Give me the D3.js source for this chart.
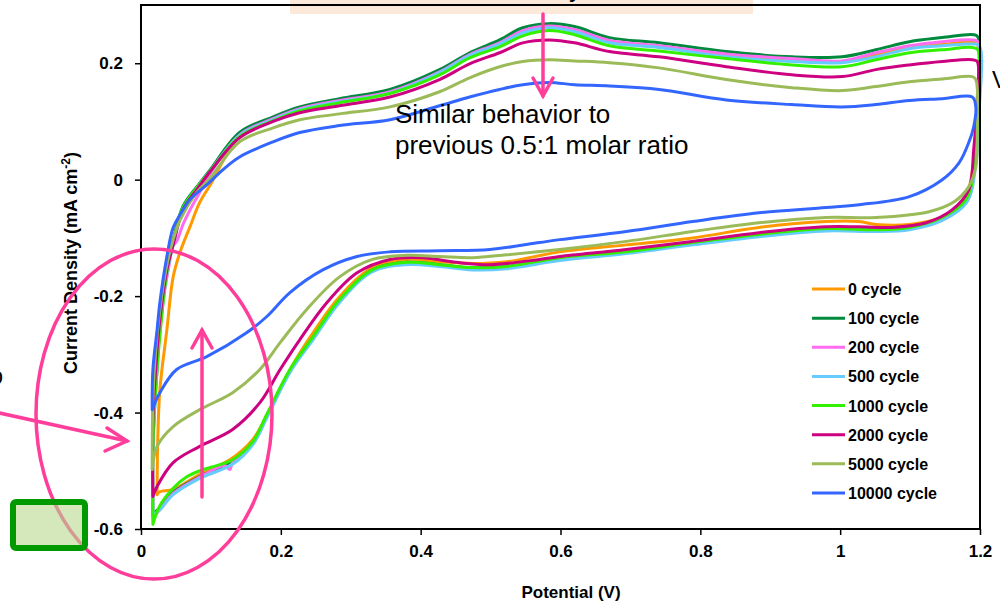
<!DOCTYPE html>
<html><head><meta charset="utf-8">
<script src="https://cdn.jsdelivr.net/npm/d3@7"></script>
<style>
body{margin:0;background:#fff;}
svg{display:block;font-family:Arial,"Liberation Sans",sans-serif;}
</style></head>
<body><svg id="c" width="1000" height="606"></svg>
<script>
// ---- data (potential V, current density mA cm^-2), loops: anodic sweep then cathodic sweep
const seriesNames = ["0 cycle","100 cycle","200 cycle","500 cycle","1000 cycle","2000 cycle","5000 cycle","10000 cycle"];
const xTicks = [0,0.2,0.4,0.6,0.8,1,1.2];
const yTicks = [-0.6,-0.4,-0.2,0,0.2];

const cycle0 = [[0.023,-0.541],[0.024,-0.446],[0.027,-0.361],[0.037,-0.258],[0.046,-0.167],[0.056,-0.124],[0.070,-0.081],[0.084,-0.039],[0.099,-0.009],[0.141,0.074],[0.189,0.103],[0.227,0.120],[0.284,0.134],[0.356,0.149],[0.427,0.184],[0.47,0.213],[0.513,0.233],[0.546,0.254],[0.584,0.263],[0.62,0.256],[0.67,0.237],[0.741,0.228],[0.837,0.213],[0.931,0.204],[1.003,0.203],[1.051,0.215],[1.099,0.227],[1.146,0.232],[1.189,0.237],
 [1.196,0.233],[1.196,0.129],[1.191,0.034],[1.179,-0.031],[1.146,-0.064],[1.099,-0.077],[1.051,-0.077],[1.027,-0.072],[0.980,-0.072],[0.884,-0.082],[0.789,-0.100],[0.694,-0.112],[0.599,-0.124],[0.523,-0.141],[0.474,-0.144],[0.427,-0.141],[0.380,-0.137],[0.331,-0.151],[0.284,-0.201],[0.246,-0.263],[0.217,-0.318],[0.184,-0.395],[0.160,-0.446],[0.127,-0.481],[0.084,-0.506],[0.046,-0.532],[0.027,-0.536],[0.023,-0.541]];
const cycle100 = [[0.017,-0.575],[0.017,-0.464],[0.020,-0.378],[0.023,-0.326],[0.027,-0.240],[0.037,-0.155],[0.046,-0.103],[0.060,-0.046],[0.080,-0.012],[0.099,0.017],[0.141,0.081],[0.189,0.108],[0.227,0.125],[0.284,0.139],[0.356,0.155],[0.427,0.189],[0.47,0.218],[0.513,0.240],[0.546,0.261],[0.584,0.268],[0.62,0.263],[0.67,0.244],[0.741,0.235],[0.837,0.220],[0.931,0.211],[1.003,0.211],[1.051,0.223],[1.099,0.237],[1.146,0.244],[1.191,0.249],
 [1.197,0.245],[1.197,0.137],[1.193,0.034],[1.180,-0.034],[1.146,-0.067],[1.099,-0.082],[1.051,-0.086],[0.980,-0.084],[0.884,-0.094],[0.789,-0.108],[0.694,-0.124],[0.599,-0.136],[0.523,-0.149],[0.474,-0.151],[0.427,-0.146],[0.380,-0.142],[0.331,-0.155],[0.284,-0.208],[0.246,-0.271],[0.213,-0.328],[0.180,-0.405],[0.160,-0.451],[0.131,-0.483],[0.084,-0.510],[0.046,-0.537],[0.027,-0.563],[0.017,-0.575]];
const cycle200 = [[0.017,-0.580],[0.017,-0.464],[0.020,-0.378],[0.027,-0.258],[0.034,-0.189],[0.041,-0.141],[0.044,-0.117],[0.051,-0.106],[0.060,-0.077],[0.070,-0.052],[0.084,-0.022],[0.099,0.010],[0.141,0.077],[0.189,0.105],[0.227,0.122],[0.284,0.136],[0.356,0.151],[0.427,0.185],[0.47,0.215],[0.513,0.235],[0.546,0.256],[0.584,0.264],[0.62,0.258],[0.67,0.239],[0.741,0.230],[0.837,0.216],[0.931,0.208],[1.003,0.204],[1.051,0.218],[1.099,0.230],[1.146,0.237],[1.189,0.240],
 [1.197,0.237],[1.197,0.129],[1.193,0.029],[1.181,-0.038],[1.146,-0.069],[1.099,-0.084],[1.051,-0.088],[0.980,-0.086],[0.884,-0.096],[0.789,-0.110],[0.694,-0.125],[0.599,-0.137],[0.523,-0.151],[0.474,-0.153],[0.427,-0.148],[0.380,-0.144],[0.331,-0.156],[0.284,-0.209],[0.246,-0.273],[0.213,-0.330],[0.180,-0.407],[0.160,-0.453],[0.131,-0.486],[0.127,-0.498],[0.120,-0.491],[0.084,-0.511],[0.046,-0.539],[0.027,-0.567],[0.017,-0.580]];
const cycle500 = [[0.017,-0.575],[0.017,-0.464],[0.021,-0.361],[0.027,-0.258],[0.037,-0.163],[0.046,-0.112],[0.060,-0.052],[0.080,-0.014],[0.099,0.015],[0.141,0.076],[0.189,0.103],[0.227,0.120],[0.284,0.134],[0.356,0.149],[0.427,0.184],[0.47,0.213],[0.513,0.233],[0.546,0.252],[0.584,0.261],[0.62,0.254],[0.67,0.235],[0.741,0.227],[0.837,0.211],[0.931,0.203],[1.003,0.201],[1.051,0.211],[1.099,0.225],[1.146,0.230],[1.189,0.233],
 [1.199,0.230],[1.199,0.120],[1.194,0.026],[1.181,-0.039],[1.146,-0.070],[1.099,-0.086],[1.051,-0.089],[0.980,-0.088],[0.884,-0.098],[0.789,-0.112],[0.694,-0.127],[0.599,-0.139],[0.523,-0.153],[0.474,-0.155],[0.427,-0.149],[0.380,-0.146],[0.331,-0.158],[0.284,-0.211],[0.246,-0.275],[0.213,-0.331],[0.180,-0.409],[0.160,-0.455],[0.131,-0.489],[0.084,-0.513],[0.046,-0.541],[0.027,-0.567],[0.017,-0.575]];
const cycle1000 = [[0.017,-0.592],[0.017,-0.464],[0.020,-0.378],[0.024,-0.309],[0.037,-0.158],[0.046,-0.108],[0.060,-0.048],[0.080,-0.014],[0.099,0.015],[0.141,0.074],[0.189,0.101],[0.227,0.118],[0.284,0.132],[0.356,0.148],[0.427,0.180],[0.47,0.209],[0.513,0.228],[0.546,0.247],[0.584,0.256],[0.62,0.249],[0.67,0.230],[0.741,0.221],[0.837,0.208],[0.931,0.197],[1.003,0.194],[1.051,0.206],[1.099,0.218],[1.146,0.223],[1.189,0.227],
 [1.197,0.223],[1.197,0.137],[1.193,0.034],[1.180,-0.034],[1.146,-0.065],[1.099,-0.082],[1.051,-0.086],[0.980,-0.084],[0.884,-0.094],[0.789,-0.108],[0.694,-0.124],[0.599,-0.134],[0.523,-0.149],[0.474,-0.151],[0.427,-0.146],[0.380,-0.142],[0.331,-0.155],[0.284,-0.206],[0.246,-0.270],[0.213,-0.326],[0.180,-0.403],[0.160,-0.450],[0.131,-0.481],[0.100,-0.494],[0.084,-0.500],[0.066,-0.510],[0.046,-0.530],[0.027,-0.560],[0.017,-0.592]];
const cycle2000 = [[0.017,-0.544],[0.017,-0.412],[0.021,-0.326],[0.027,-0.240],[0.037,-0.155],[0.046,-0.112],[0.060,-0.052],[0.080,-0.017],[0.099,0.014],[0.141,0.072],[0.189,0.100],[0.227,0.115],[0.284,0.127],[0.356,0.142],[0.427,0.172],[0.47,0.199],[0.513,0.218],[0.546,0.235],[0.584,0.240],[0.62,0.235],[0.67,0.220],[0.741,0.211],[0.837,0.194],[0.931,0.180],[1.003,0.177],[1.051,0.189],[1.099,0.197],[1.146,0.203],[1.189,0.206],
 [1.196,0.203],[1.196,0.137],[1.191,0.052],[1.184,-0.017],[1.160,-0.052],[1.123,-0.074],[1.074,-0.082],[1.027,-0.081],[0.980,-0.081],[0.884,-0.091],[0.789,-0.106],[0.694,-0.120],[0.599,-0.132],[0.570,-0.137],[0.499,-0.146],[0.451,-0.142],[0.403,-0.134],[0.356,-0.137],[0.309,-0.160],[0.266,-0.211],[0.227,-0.275],[0.199,-0.326],[0.170,-0.383],[0.131,-0.429],[0.084,-0.458],[0.046,-0.486],[0.023,-0.527],[0.017,-0.544]];
const cycle5000 = [[0.016,-0.498],[0.017,-0.378],[0.020,-0.309],[0.027,-0.223],[0.037,-0.146],[0.046,-0.103],[0.056,-0.069],[0.077,-0.026],[0.099,0.003],[0.141,0.065],[0.189,0.089],[0.227,0.103],[0.284,0.113],[0.356,0.125],[0.427,0.151],[0.47,0.175],[0.513,0.194],[0.546,0.203],[0.584,0.206],[0.62,0.204],[0.67,0.201],[0.741,0.192],[0.837,0.172],[0.931,0.158],[1.003,0.153],[1.051,0.160],[1.099,0.168],[1.146,0.173],[1.189,0.177],
 [1.194,0.172],[1.196,0.081],[1.194,0.022],[1.184,-0.012],[1.163,-0.038],[1.127,-0.055],[1.051,-0.065],[0.980,-0.065],[0.884,-0.074],[0.789,-0.089],[0.694,-0.106],[0.599,-0.120],[0.523,-0.129],[0.474,-0.134],[0.427,-0.132],[0.380,-0.130],[0.331,-0.137],[0.284,-0.167],[0.237,-0.223],[0.199,-0.280],[0.170,-0.326],[0.131,-0.366],[0.084,-0.395],[0.046,-0.424],[0.023,-0.458],[0.016,-0.498]];
const cycle10000 = [[0.016,-0.395],[0.017,-0.326],[0.023,-0.258],[0.027,-0.211],[0.037,-0.132],[0.046,-0.082],[0.056,-0.060],[0.070,-0.034],[0.094,-0.009],[0.117,0.017],[0.141,0.039],[0.189,0.065],[0.227,0.081],[0.284,0.093],[0.356,0.103],[0.427,0.127],[0.47,0.142],[0.513,0.155],[0.546,0.163],[0.584,0.167],[0.62,0.163],[0.67,0.161],[0.741,0.155],[0.837,0.137],[0.931,0.129],[1.003,0.125],[1.051,0.129],[1.099,0.136],[1.146,0.139],[1.189,0.142],
 [1.194,0.125],[1.191,0.091],[1.184,0.064],[1.170,0.029],[1.146,0.000],[1.099,-0.029],[1.027,-0.043],[0.980,-0.048],[0.884,-0.057],[0.789,-0.072],[0.694,-0.089],[0.599,-0.103],[0.570,-0.108],[0.499,-0.120],[0.427,-0.122],[0.356,-0.124],[0.309,-0.132],[0.260,-0.155],[0.213,-0.194],[0.180,-0.235],[0.151,-0.263],[0.094,-0.304],[0.051,-0.326],[0.027,-0.366],[0.016,-0.395]];

const seriesData = [cycle0,cycle100,cycle200,cycle500,cycle1000,cycle2000,cycle5000,cycle10000];
const seriesColors = ["#ff9900","#008a3e","#ff6cf0","#66ccff","#33f000","#cc0080","#9bbb59","#3366ff"];

// ---- chart
const svg = d3.select("#c");
const x = d3.scaleLinear().domain([0,1.2]).range([141,980]);
const y = d3.scaleLinear().domain([-0.6,0.3]).range([529,5]);
const pink = "#ff3d9a";

// top peach box (partially off-canvas)
svg.append("rect").attr("x",290).attr("y",-30).attr("width",463).attr("height",44).attr("fill","#fde9d9");
svg.append("text").attr("x",582).attr("y",-3).attr("text-anchor","end").attr("font-size",26).attr("fill","#000")
  .text("Current decreases slowly");

// curves
const line = d3.line().x(d=>x(d[0])).y(d=>y(d[1])).curve(d3.curveCatmullRom.alpha(0.5));
svg.append("g").selectAll("path").data(seriesData).join("path")
  .attr("d",line).attr("fill","none").attr("stroke",(d,i)=>seriesColors[i])
  .attr("stroke-width",3).attr("stroke-linejoin","round").attr("stroke-linecap","round");

// frame
svg.append("rect").attr("x",141).attr("y",5).attr("width",839).attr("height",524)
  .attr("fill","none").attr("stroke","#000").attr("stroke-width",2);

// axes
const fmt = d=> d===0 ? "0" : String(d);
const gy = svg.append("g").attr("transform","translate(141,0)")
  .call(d3.axisLeft(y).tickValues(yTicks).tickFormat(fmt).tickSize(6).tickPadding(12));
const gx = svg.append("g").attr("transform","translate(0,529)")
  .call(d3.axisBottom(x).tickValues(xTicks).tickFormat(fmt).tickSize(6).tickPadding(10));
[gx,gy].forEach(g=>{
  g.select(".domain").remove();
  g.selectAll(".tick line").attr("stroke","#000").attr("stroke-width",1.5);
  g.selectAll(".tick text").attr("font-size",17).attr("font-weight","bold").attr("fill","#000")
    .attr("font-family","Arial, 'Liberation Sans', sans-serif");
});

// axis titles
svg.append("text").attr("x",571).attr("y",598).attr("text-anchor","middle")
  .attr("font-size",17).attr("font-weight","bold").text("Potential (V)");
const yt = svg.append("text").attr("transform","translate(77,263) rotate(-90)").attr("text-anchor","middle")
  .attr("font-size",18).attr("font-weight","bold");
yt.append("tspan").text("Current Density  (mA cm");
yt.append("tspan").attr("font-size",12).attr("dy",-7).text("-2");
yt.append("tspan").attr("dy",7).text(")");

// annotation texts
svg.append("text").attr("x",395).attr("y",123).attr("font-size",26).text("Similar behavior to");
svg.append("text").attr("x",395).attr("y",154).attr("font-size",26).text("previous 0.5:1 molar ratio");
svg.append("text").attr("x",992).attr("y",88).attr("font-size",23).text("V");
svg.append("text").attr("x",3).attr("y",384).attr("text-anchor","end").attr("font-size",23).text("to");

// pink arrows & ellipse
const ann = svg.append("g").attr("stroke",pink).attr("fill","none").attr("stroke-width",3.5).attr("stroke-linecap","round");
ann.append("line").attr("x1",543).attr("y1",14).attr("x2",543).attr("y2",96);
ann.append("path").attr("d","M533,78 L543,96 L553,78");
ann.append("ellipse").attr("cx",154).attr("cy",414).attr("rx",118).attr("ry",165);
ann.append("line").attr("x1",-5).attr("y1",412).attr("x2",127).attr("y2",441);
ann.append("path").attr("d","M107,428 L127,441 L105,451");
ann.append("line").attr("x1",202).attr("y1",497).attr("x2",202).attr("y2",330);
ann.append("path").attr("d","M192,348 L202,330 L212,348");

// green box
svg.append("rect").attr("x",13).attr("y",502).attr("width",72).attr("height",46).attr("rx",3)
  .attr("fill","#b8d88e").attr("fill-opacity",0.6).attr("stroke","#009a00").attr("stroke-width",6);

// legend
const lg = svg.append("g");
const rowY = d3.scalePoint().domain(seriesNames).range([289,493]);
seriesNames.forEach((n,i)=>{
  lg.append("line").attr("x1",812).attr("x2",845).attr("y1",rowY(n)).attr("y2",rowY(n))
    .attr("stroke",seriesColors[i]).attr("stroke-width",3);
  lg.append("text").attr("x",848).attr("y",rowY(n)+6).attr("font-size",16).attr("font-weight","bold").text(n);
});
</script></body></html>
